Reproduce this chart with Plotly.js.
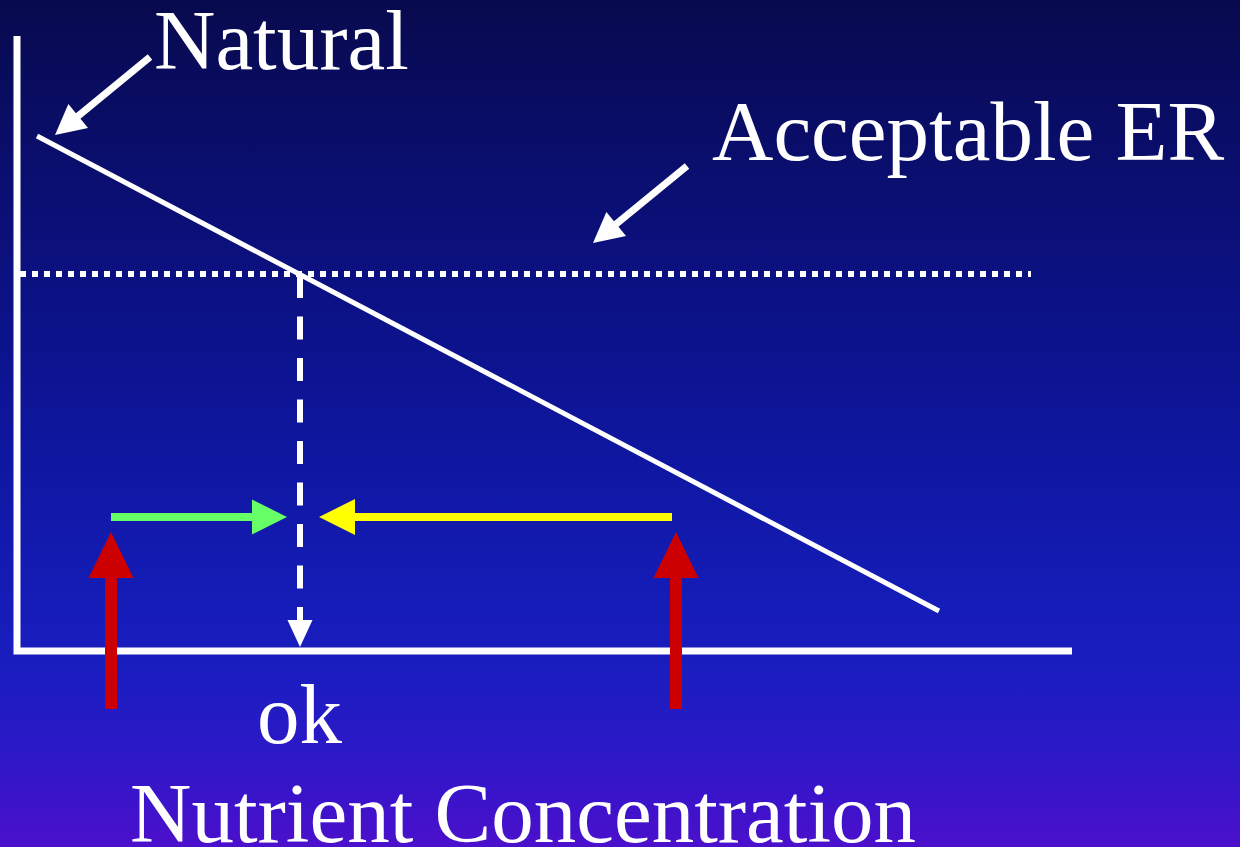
<!DOCTYPE html>
<html>
<head>
<meta charset="utf-8">
<script src="https://cdn.plot.ly/plotly-3.0.1.min.js"></script>
<style>
  html, body { margin: 0; padding: 0; overflow: hidden; }
  body {
    width: 1240px; height: 847px;
    background: linear-gradient(to bottom,
      #080a4e 0%, #0a0e6e 20%, #0c1288 38%, #0f17a2 55%,
      #151cb6 70%, #1b1dc0 80%, #2a19c6 88%, #3a14ca 94%, #4c10cc 100%);
  }
  #chart { width: 1240px; height: 847px; }
</style>
</head>
<body>
<div id="chart"></div>
<script>
// ---- Diagram data (page coordinates: x to the right, y downward) ----
const axisX = [17, 17, 1072];
const axisY = [36, 651, 651];

const naturalLineX = [37, 939];
const naturalLineY = [136, 611];

const acceptableErX = [20, 1031];
const acceptableErY = [274, 274];

const okDropX = [300, 300];
const okDropY = [275, 647];

const greenArrowX = [111, 287];
const greenArrowY = [517, 517];

const yellowArrowX = [672, 319];
const yellowArrowY = [517, 517];

const redLeftX = [111, 111];
const redLeftY = [709, 532];
const redRightX = [676, 676];
const redRightY = [709, 532];

const naturalPointerX = [150, 55];
const naturalPointerY = [57, 135];
const erPointerX = [687, 593];
const erPointerY = [166, 243];

const labelTexts = ["Natural", "Acceptable ER", "ok", "Nutrient Concentration"];
const labelX = [153, 711, 300, 523];
const labelY = [69, 160, 743, 842];   // baselines
const labelAnchor = ["left", "left", "center", "center"];

// ---- helpers ----
const traces = [];
function line(xs, ys, color, width, dash) {
  traces.push({
    type: "scatter", mode: "lines", x: xs, y: ys,
    line: { color: color, width: width, dash: dash || "solid" },
    hoverinfo: "skip"
  });
}
function arrow(xs, ys, color, width, headLen, headW, dash) {
  const x0 = xs[0], y0 = ys[0], x1 = xs[1], y1 = ys[1];
  const L = Math.hypot(x1 - x0, y1 - y0);
  const ux = (x1 - x0) / L, uy = (y1 - y0) / L;
  const bx = x1 - ux * headLen, by = y1 - uy * headLen;
  // shaft ends slightly inside the head
  line([x0, bx + ux * 2], [y0, by + uy * 2], color, width, dash);
  const px = -uy, py = ux;
  traces.push({
    type: "scatter", mode: "lines", fill: "toself",
    x: [x1, bx + px * headW / 2, bx - px * headW / 2, x1],
    y: [y1, by + py * headW / 2, by - py * headW / 2, y1],
    line: { width: 0, color: color }, fillcolor: color,
    hoverinfo: "skip"
  });
}

// axes
line(axisX, axisY, "#ffffff", 7);
// natural line
line(naturalLineX, naturalLineY, "#ffffff", 5);
// acceptable ER dotted line
line(acceptableErX, acceptableErY, "#ffffff", 6, "6px,6px");
// ok drop dashed arrow
arrow(okDropX, okDropY, "#ffffff", 6, 27, 25, "23px,18.5px");
// green / yellow arrows
arrow(greenArrowX, greenArrowY, "#66ff66", 8, 35, 35);
arrow(yellowArrowX, yellowArrowY, "#ffff00", 8, 36, 36);
// red arrows
arrow(redLeftX, redLeftY, "#cc0000", 12, 46, 45);
arrow(redRightX, redRightY, "#cc0000", 12, 46, 45);
// label pointers
arrow(naturalPointerX, naturalPointerY, "#ffffff", 7, 30, 31);
arrow(erPointerX, erPointerY, "#ffffff", 7, 30, 31);

const FS = 85;
const annotations = labelTexts.map((t, i) => ({
  text: t, x: labelX[i], y: labelY[i] - 28.7,
  xref: "x", yref: "y", xanchor: labelAnchor[i], yanchor: "middle",
  showarrow: false, borderpad: 0,
  font: { family: "Liberation Serif, Times New Roman, serif", size: FS, color: "#ffffff" }
}));

const layout = {
  width: 1240, height: 847,
  margin: { l: 0, r: 0, t: 0, b: 0, pad: 0 },
  paper_bgcolor: "rgba(0,0,0,0)",
  plot_bgcolor: "rgba(0,0,0,0)",
  showlegend: false,
  xaxis: { range: [0, 1240], visible: false, fixedrange: true },
  yaxis: { range: [847, 0], visible: false, fixedrange: true },
  annotations: annotations
};

Plotly.newPlot("chart", traces, layout, { staticPlot: true, displayModeBar: false });
</script>
</body>
</html>
